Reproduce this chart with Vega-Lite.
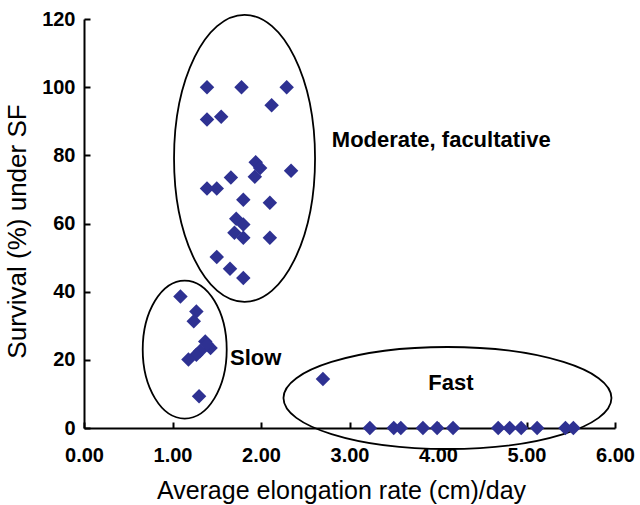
{
  "$schema": "https://vega.github.io/schema/vega-lite/v6.json",
  "width": 531,
  "height": 409,
  "autosize": "none",
  "padding": {"left": 84, "top": 19, "right": 25, "bottom": 77},
  "background": "white",
  "config": {
    "view": {"stroke": null},
    "font": "Liberation Sans"
  },
  "datasets": {
    "points": [
      {"rate": 1.39, "survival": 100}, {"rate": 1.78, "survival": 100}, {"rate": 2.29, "survival": 100},
      {"rate": 2.12, "survival": 94.7}, {"rate": 1.39, "survival": 90.5}, {"rate": 1.55, "survival": 91.3},
      {"rate": 1.94, "survival": 78.0}, {"rate": 1.99, "survival": 76.3}, {"rate": 1.93, "survival": 73.7},
      {"rate": 2.34, "survival": 75.5}, {"rate": 1.66, "survival": 73.5}, {"rate": 1.39, "survival": 70.3},
      {"rate": 1.50, "survival": 70.3}, {"rate": 1.80, "survival": 67.0}, {"rate": 2.10, "survival": 66.1},
      {"rate": 1.72, "survival": 61.4}, {"rate": 1.80, "survival": 59.7}, {"rate": 1.70, "survival": 57.3},
      {"rate": 1.80, "survival": 55.8}, {"rate": 2.10, "survival": 55.8}, {"rate": 1.50, "survival": 50.2},
      {"rate": 1.65, "survival": 46.7}, {"rate": 1.80, "survival": 44.0},
      {"rate": 1.09, "survival": 38.6}, {"rate": 1.27, "survival": 34.2}, {"rate": 1.24, "survival": 31.3},
      {"rate": 1.37, "survival": 25.4}, {"rate": 1.43, "survival": 23.5}, {"rate": 1.39, "survival": 24.5},
      {"rate": 1.31, "survival": 22.5}, {"rate": 1.27, "survival": 21.5}, {"rate": 1.18, "survival": 20.1},
      {"rate": 1.30, "survival": 9.3},
      {"rate": 2.70, "survival": 14.4},
      {"rate": 3.23, "survival": 0}, {"rate": 3.50, "survival": 0}, {"rate": 3.58, "survival": 0},
      {"rate": 3.83, "survival": 0}, {"rate": 3.99, "survival": 0}, {"rate": 4.17, "survival": 0},
      {"rate": 4.68, "survival": 0}, {"rate": 4.81, "survival": 0}, {"rate": 4.94, "survival": 0},
      {"rate": 5.12, "survival": 0}, {"rate": 5.44, "survival": 0}, {"rate": 5.53, "survival": 0}
    ],
    "ellipses": [
      {"group": "Moderate", "rate": 1.814, "survival": 79.1},
      {"group": "Slow", "rate": 1.138, "survival": 23.0},
      {"group": "Fast", "rate": 4.107, "survival": 8.8}
    ],
    "labels": [
      {"label": "Moderate, facultative", "rate": 2.80, "survival": 84.6},
      {"label": "Slow", "rate": 1.65, "survival": 20.6},
      {"label": "Fast", "rate": 3.89, "survival": 13.3}
    ]
  },
  "encoding": {
    "x": {
      "field": "rate", "type": "quantitative",
      "scale": {"domain": [0, 6], "nice": false, "zero": true},
      "axis": {
        "title": "Average elongation rate (cm)/day",
        "values": [0, 1, 2, 3, 4, 5, 6],
        "format": ".2f",
        "grid": false,
        "domainColor": "black", "domainWidth": 2,
        "tickColor": "black", "tickWidth": 2, "tickSize": -6,
        "labelFont": "Liberation Sans", "labelFontSize": 20, "labelFontWeight": "bold", "labelColor": "black",
        "labelPadding": 23,
        "labelFlush": false,
        "titleFont": "Liberation Sans", "titleFontSize": 25, "titleFontWeight": "normal", "titleColor": "black",
        "titleX": 257, "titleY": 70, "titleBaseline": "alphabetic"
      }
    },
    "y": {
      "field": "survival", "type": "quantitative",
      "scale": {"domain": [0, 120], "nice": false},
      "axis": {
        "title": "Survival (%) under SF",
        "values": [0, 20, 40, 60, 80, 100, 120],
        "format": "d",
        "grid": false,
        "domainColor": "black", "domainWidth": 2,
        "tickColor": "black", "tickWidth": 2, "tickSize": -6,
        "labelFont": "Liberation Sans", "labelFontSize": 20, "labelFontWeight": "bold", "labelColor": "black",
        "labelPadding": 15,
        "labelFlush": false,
        "titleFont": "Liberation Sans", "titleFontSize": 26, "titleFontWeight": "normal", "titleColor": "black",
        "titleX": -59, "titleY": 212, "titleBaseline": "alphabetic", "titleAngle": 270
      }
    }
  },
  "layer": [
    {
      "data": {"name": "ellipses"},
      "transform": [{"filter": "datum.group === 'Moderate'"}],
      "mark": {
        "type": "point", "filled": false, "stroke": "black", "opacity": 1, "strokeOpacity": 1, "strokeWidth": 1.8, "size": 82369,
        "shape": "M 0.4913 0 C 0.4913 0.5523 0.2713 1 0 1 C -0.2713 1 -0.4913 0.5523 -0.4913 0 C -0.4913 -0.5523 -0.2713 -1 0 -1 C 0.2713 -1 0.4913 -0.5523 0.4913 0 Z"
      }
    },
    {
      "data": {"name": "ellipses"},
      "transform": [{"filter": "datum.group === 'Slow'"}],
      "mark": {
        "type": "point", "filled": false, "stroke": "black", "opacity": 1, "strokeOpacity": 1, "strokeWidth": 1.8, "size": 19044,
        "shape": "M 0.6087 0 C 0.6087 0.5523 0.3362 1 0 1 C -0.3362 1 -0.6087 0.5523 -0.6087 0 C -0.6087 -0.5523 -0.3362 -1 0 -1 C 0.3362 -1 0.6087 -0.5523 0.6087 0 Z"
      }
    },
    {
      "data": {"name": "ellipses"},
      "transform": [{"filter": "datum.group === 'Fast'"}],
      "mark": {
        "type": "point", "filled": false, "stroke": "black", "opacity": 1, "strokeOpacity": 1, "strokeWidth": 1.8, "size": 107584,
        "shape": "M 1 0 C 1 0.1718 0.5523 0.311 0 0.311 C -0.5523 0.311 -1 0.1718 -1 0 C -1 -0.1718 -0.5523 -0.311 0 -0.311 C 0.5523 -0.311 1 -0.1718 1 0 Z"
      }
    },
    {
      "data": {"name": "points"},
      "mark": {"type": "point", "shape": "diamond", "filled": true, "color": "#2E3192", "opacity": 1, "size": 210, "strokeWidth": 0}
    },
    {
      "data": {"name": "labels"},
      "mark": {"type": "text", "align": "left", "baseline": "middle", "font": "Liberation Sans", "fontSize": 22, "fontWeight": "bold", "color": "black"},
      "encoding": {"text": {"field": "label"}}
    }
  ]
}
